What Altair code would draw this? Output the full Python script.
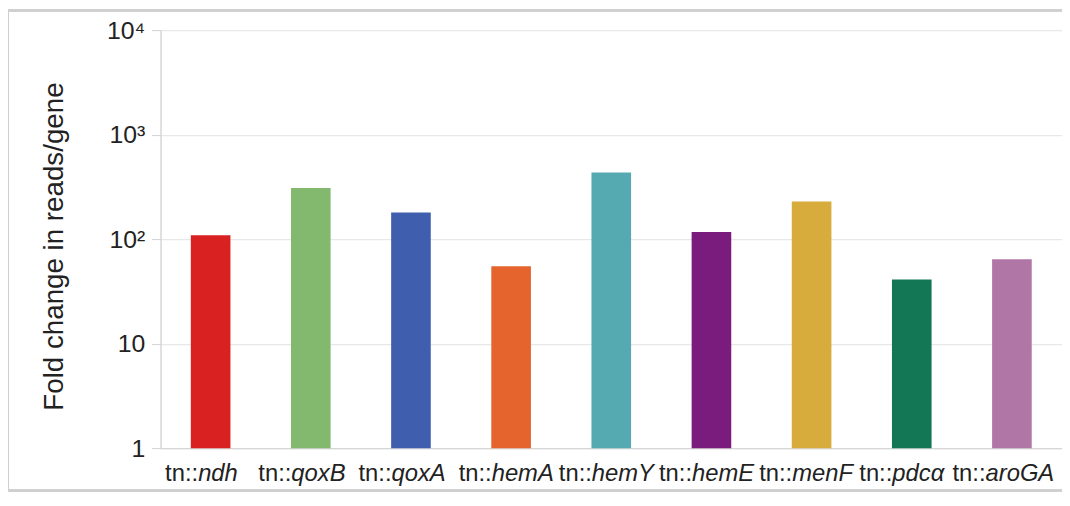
import altair as alt
import pandas as pd

prefix = ["tn::"] * 9
genes = ["ndh", "qoxB", "qoxA", "hemA", "hemY", "hemE", "menF", "pdcα", "aroGA"]
fold_change = [109, 309, 180, 55, 434, 117, 229, 41, 64]
colors = ["#d92121", "#82b96f", "#3f5fae", "#e5642e", "#55aab2",
          "#791c7e", "#d8ab3d", "#137756", "#b076a6"]
y_ticks = [1, 10, 100, 1000, 10000]

df = pd.DataFrame({"gene": genes, "prefix": prefix, "fold": fold_change})

FONT = "Liberation Sans"
FS = 24
W, H = 910, 422
BAR_W = 40

x_enc = alt.X("gene:N", sort=genes,
              scale=alt.Scale(paddingInner=0.6, paddingOuter=0.3),
              axis=alt.Axis(labels=False, ticks=False, title=None,
                            domainColor="#d6d6d6", domainWidth=1.5))

bars = alt.Chart(df).mark_bar(width=BAR_W).encode(
    x=x_enc,
    y=alt.Y("fold:Q",
            scale=alt.Scale(type="log", domain=[1, 10000], nice=False),
            axis=alt.Axis(values=y_ticks,
                          labelExpr="datum.value==1?'1':datum.value==10?'10':datum.value==100?'10²':datum.value==1000?'10³':'10⁴'",
                          labelFont=FONT, labelFontSize=25, labelColor="#222",
                          labelPadding=7, tickSize=9, tickColor="#d0d0d0",
                          domainColor="#d6d6d6", domainWidth=1.5,
                          gridColor="#e8e8e8", gridWidth=1.2,
                          title="Fold change in reads/gene",
                          titleFont=FONT, titleFontSize=28, titleFontWeight="normal",
                          titleColor="#222", titleX=-107, titleY=218,
                          titleBaseline="middle", titleAlign="center")),
    y2=alt.datum(1),
    color=alt.Color("gene:N", sort=genes,
                    scale=alt.Scale(domain=genes, range=colors), legend=None),
)

# label layout: "tn::" (upright) and gene name (italic) meet at an offset so the
# combined label sits approximately centred under its bar
lab_base = alt.Chart(df).transform_calculate(
    off=f"{BAR_W/2} + ({1.39*FS} - length(datum.gene)*{0.585*FS})/2 - 8"
)

pre = lab_base.mark_text(font=FONT, fontSize=FS, align="right",
                         baseline="alphabetic", color="#222").encode(
    x=alt.X("gene:N", sort=genes),
    xOffset=alt.XOffset("off:Q", scale=None),
    y=alt.value(H + 33),
    text="prefix:N",
)
gen = lab_base.mark_text(font=FONT, fontSize=FS, fontStyle="italic", align="left",
                         baseline="alphabetic", color="#222").encode(
    x=alt.X("gene:N", sort=genes),
    xOffset=alt.XOffset("off:Q", scale=None),
    y=alt.value(H + 33),
    text="gene:N",
)

frame = alt.Chart(df).mark_rect(fill="transparent", stroke="#cfcfcf", strokeWidth=2).encode(
    x=alt.value(-154), x2=alt.value(W + 20),
    y=alt.value(-20), y2=alt.value(H + 43),
)

chart = alt.layer(bars, pre, gen, frame).resolve_scale(
    xOffset="independent"
).properties(
    width=W, height=H,
    background="white",
    autosize=alt.AutoSizeParams(type="none"),
    padding={"left": 154, "top": 20, "right": 0, "bottom": 44},
).configure_view(strokeWidth=0)

chart.save("out.html", embed_options={"renderer": "svg", "actions": False})
